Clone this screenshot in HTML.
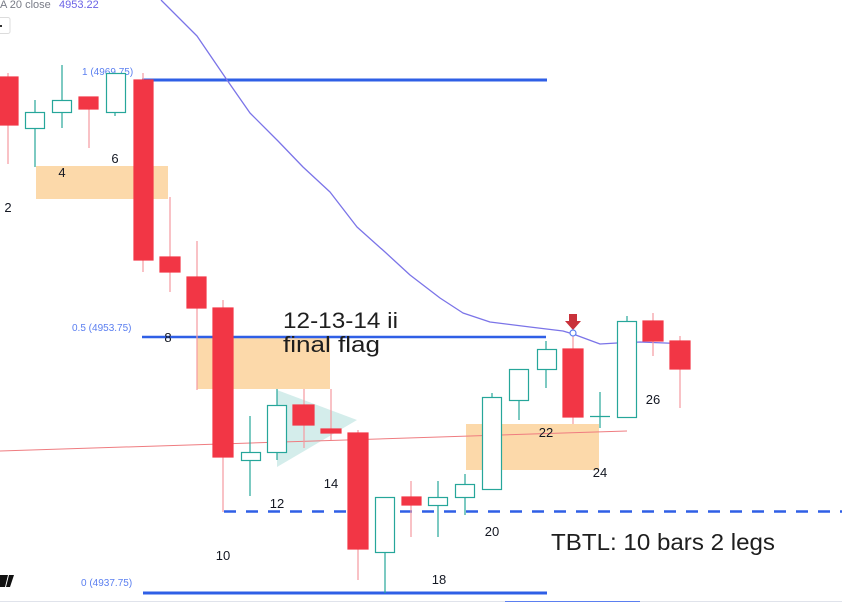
<!DOCTYPE html>
<html><head><meta charset="utf-8"><style>
html,body{margin:0;padding:0;background:#fff;}
svg{display:block;}
text{font-family:"Liberation Sans","DejaVu Sans",sans-serif;}
</style></head><body>
<svg width="842" height="602" viewBox="0 0 842 602" xmlns="http://www.w3.org/2000/svg">
<rect width="842" height="602" fill="#fff"/>
<!-- header -->
<text x="0" y="8" font-size="11" fill="#787b86">A 20 close</text>
<text x="59" y="8" font-size="11" fill="#6b63e6">4953.22</text>
<rect x="-2" y="17.5" width="12" height="16" rx="2" fill="#fff" stroke="#dcdcdc"/>
<rect x="0" y="25" width="2" height="2" fill="#333"/>

<!-- orange boxes -->
<rect x="36" y="166" width="132" height="33" fill="#fcd9aa"/>
<rect x="197" y="337" width="133" height="52" fill="#fcd9aa"/>
<rect x="466" y="424" width="133" height="46" fill="#fcd9aa"/>

<!-- triangle -->
<polygon points="277,390 357,420 277,467" fill="#26a69a" fill-opacity="0.2"/>

<!-- fib lines -->
<line x1="142" y1="80" x2="547" y2="80" stroke="#2f5fe6" stroke-width="3"/>
<line x1="142" y1="337" x2="546" y2="337" stroke="#2f5fe6" stroke-width="2.5"/>
<line x1="143" y1="593" x2="547" y2="593" stroke="#2f5fe6" stroke-width="3"/>
<line x1="224" y1="511.5" x2="842" y2="511.5" stroke="#2f5fe6" stroke-width="2.5" stroke-dasharray="12,10"/>
<text x="82" y="75" font-size="10" fill="#5b7ff0">1 (4969.75)</text>
<text x="72" y="331" font-size="10" fill="#5b7ff0">0.5 (4953.75)</text>
<text x="81" y="586" font-size="10" fill="#5b7ff0">0 (4937.75)</text>

<!-- red trend line -->
<line x1="0" y1="451" x2="627" y2="431" stroke="#ef7c80" stroke-width="1"/>

<!-- MA line -->
<polyline fill="none" stroke="#7b74e8" stroke-width="1.3" stroke-linejoin="round" points="161,0 197,36 212,58 227,80 250,113 278,141 303,167 330,192 357,227 385,252 410,275 440,298 463,313 490,322 530,327 563,331 573,334 600,344 617,343 640,342 690,344"/>

<g stroke-width="1.2">
<!-- red candles -->
<g stroke="#f23645" fill="#f23645">
<line x1="8" y1="73" x2="8" y2="164" stroke="#f59aa0"/><rect x="0" y="77" width="18" height="48"/>
<line x1="89" y1="97" x2="89" y2="148" stroke="#f59aa0"/><rect x="79" y="97" width="19" height="12"/>
<line x1="143" y1="73" x2="143" y2="272" stroke="#f59aa0"/><rect x="134" y="80" width="19" height="180"/>
<line x1="170" y1="197" x2="170" y2="292" stroke="#f59aa0"/><rect x="160" y="257" width="20" height="15"/>
<line x1="197" y1="241" x2="197" y2="390" stroke="#f59aa0"/><rect x="187" y="277" width="19" height="31"/>
<line x1="223" y1="300" x2="223" y2="512" stroke="#f59aa0"/><rect x="213" y="308" width="20" height="149"/>
<line x1="304" y1="389" x2="304" y2="448" stroke="#f59aa0"/><rect x="293" y="405" width="21" height="20"/>
<line x1="331" y1="389" x2="331" y2="440" stroke="#f59aa0"/><rect x="321" y="429" width="20" height="4"/>
<line x1="358" y1="430" x2="358" y2="580" stroke="#f59aa0"/><rect x="348" y="433" width="20" height="116"/>
<line x1="411" y1="481" x2="411" y2="537" stroke="#f59aa0"/><rect x="402" y="497" width="19" height="8"/>
<line x1="573" y1="333" x2="573" y2="424" stroke="#f59aa0"/><rect x="563" y="349" width="20" height="68"/>
<line x1="653" y1="313" x2="653" y2="356" stroke="#f59aa0"/><rect x="643" y="321" width="20" height="20"/>
<line x1="680" y1="336" x2="680" y2="408" stroke="#f59aa0"/><rect x="670" y="341" width="20" height="28"/>
</g>
<!-- hollow candles -->
<g stroke="#26a69a" fill="#fff">
<line x1="35" y1="100" x2="35" y2="167"/><rect x="25.5" y="112.5" width="19" height="16"/>
<line x1="62" y1="65" x2="62" y2="128"/><rect x="52.5" y="100.5" width="19" height="12"/>
<line x1="115" y1="73" x2="115" y2="116"/><rect x="106.5" y="73.5" width="19" height="39"/>
<line x1="250" y1="416" x2="250" y2="496"/><rect x="241.5" y="452.5" width="19" height="8"/>
<line x1="277" y1="389" x2="277" y2="460"/><rect x="267.5" y="405.5" width="19" height="47"/>
<line x1="385" y1="552" x2="385" y2="593"/><rect x="375.5" y="497.5" width="19" height="55"/>
<line x1="438" y1="481" x2="438" y2="537"/><rect x="428.5" y="497.5" width="19" height="8"/>
<line x1="465" y1="474" x2="465" y2="515"/><rect x="455.5" y="484.5" width="19" height="13"/>
<line x1="492" y1="393" x2="492" y2="489"/><rect x="482.5" y="397.5" width="19" height="92"/>
<line x1="519" y1="369" x2="519" y2="420"/><rect x="509.5" y="369.5" width="19" height="31"/>
<line x1="546" y1="341" x2="546" y2="388"/><rect x="537.5" y="349.5" width="19" height="20"/>
<line x1="600" y1="392" x2="600" y2="428"/><line x1="590" y1="416.5" x2="610" y2="416.5"/>
<line x1="627" y1="316" x2="627" y2="417"/><rect x="617.5" y="321.5" width="19" height="96"/>
</g>
</g>

<!-- arrow + circle -->
<polygon points="569,314 577,314 577,321 581,321 573,330 565,321 569,321" fill="#c9323b"/>
<circle cx="573" cy="333" r="3" fill="#fff" stroke="#5b7ff0" stroke-width="1.2"/>

<!-- bar labels -->
<g font-size="13" fill="#131722" text-anchor="middle">
<text x="8" y="212">2</text>
<text x="62" y="177">4</text>
<text x="115" y="163">6</text>
<text x="168" y="342">8</text>
<text x="223" y="560">10</text>
<text x="277" y="508">12</text>
<text x="331" y="488">14</text>
<text x="439" y="584">18</text>
<text x="492" y="536">20</text>
<text x="546" y="437">22</text>
<text x="600" y="477">24</text>
<text x="653" y="404">26</text>
</g>

<!-- annotations -->
<text x="283" y="328" font-size="22" fill="#1e1e1e" textLength="115" lengthAdjust="spacingAndGlyphs">12-13-14 ii</text>
<text x="283" y="352" font-size="22" fill="#1e1e1e" textLength="97" lengthAdjust="spacingAndGlyphs">final flag</text>
<text x="551" y="550" font-size="23" fill="#1e1e1e" textLength="224" lengthAdjust="spacingAndGlyphs">TBTL: 10 bars 2 legs</text>

<!-- TV logo -->
<polygon points="0,575 8,575 5,587 0,587" fill="#111"/>
<polygon points="9,575 14,575 10,587 6,587" fill="#111"/>

<!-- bottom edge -->
<line x1="0" y1="601.5" x2="842" y2="601.5" stroke="#e0e3eb" stroke-width="1"/>
<line x1="505" y1="601.5" x2="640" y2="601.5" stroke="#5b7ff0" stroke-width="1"/>
</svg>
</body></html>
